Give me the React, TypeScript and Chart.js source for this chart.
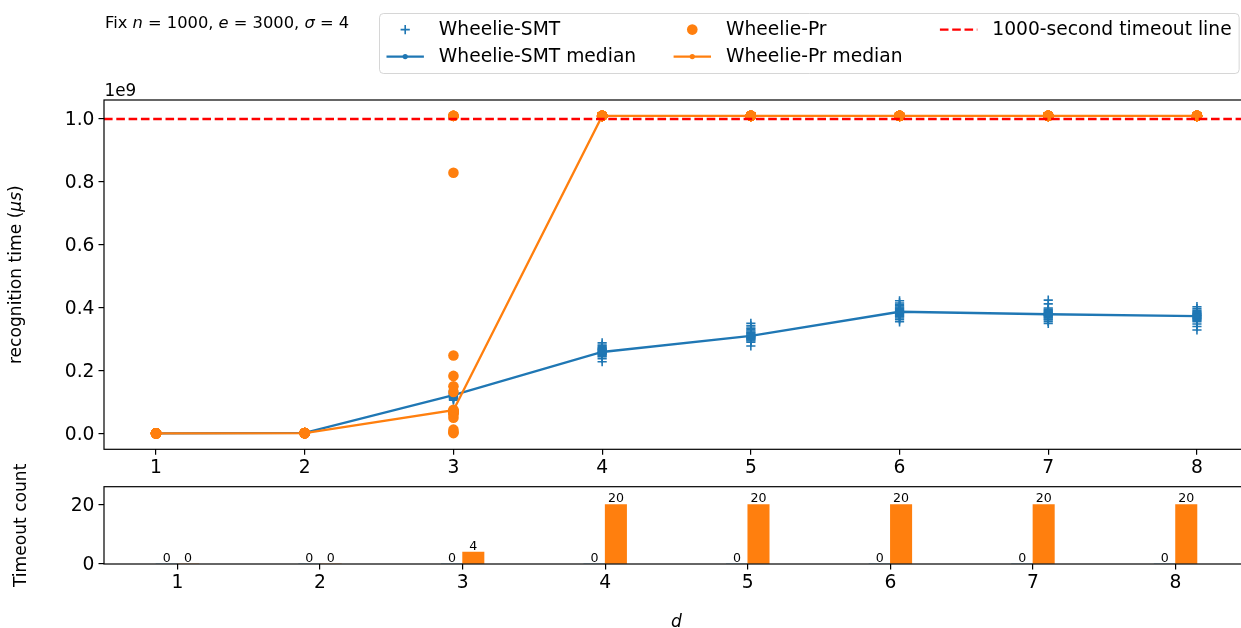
import React, { useEffect, useRef } from 'react';
import { Chart, registerables } from 'chart.js';

Chart.register(...registerables);

const FONT = '"DejaVu Sans", sans-serif';
const BLUE = '#1f77b4';
const ORANGE = '#ff7f0e';
const RED = '#ff0000';

// number of dimensions d on the x axis
const dValues = [1, 2, 3, 4, 5, 6, 7, 8];

// Wheelie-SMT recognition time per run, in seconds (20 runs per d)
const smtRuns: number[][] = [
  [0.42, 0.45, 0.39, 0.48, 0.41, 0.44, 0.46, 0.40, 0.43, 0.47, 0.42, 0.45, 0.44, 0.41, 0.49, 0.43, 0.46, 0.40, 0.44, 0.42],
  [1.6, 1.8, 1.5, 2.1, 1.7, 1.9, 2.0, 1.6, 1.8, 1.7, 2.2, 1.9, 1.8, 1.6, 2.0, 1.7, 1.9, 1.8, 2.1, 1.7],
  [106, 109, 112, 114, 116, 117, 118, 119, 120, 121, 123, 124, 125, 126, 127, 128, 130, 132, 135, 138],
  [228, 238, 244, 247, 250, 252, 254, 255, 256, 258, 260, 262, 264, 266, 268, 270, 273, 276, 281, 288],
  [278, 290, 294, 297, 300, 302, 304, 306, 308, 309, 311, 313, 316, 319, 322, 326, 330, 335, 342, 350],
  [355, 362, 367, 371, 374, 377, 380, 382, 384, 386, 388, 390, 393, 396, 399, 402, 406, 410, 415, 422],
  [350, 356, 361, 364, 367, 370, 373, 375, 376, 378, 380, 382, 384, 386, 389, 392, 395, 399, 412, 424],
  [329, 340, 348, 355, 359, 362, 365, 367, 369, 372, 374, 376, 378, 380, 382, 385, 388, 392, 397, 403],
];

// Wheelie-Pr recognition time per run, in seconds; 1010 marks a run that hit the timeout
const prRuns: number[][] = [
  [0.21, 0.24, 0.19, 0.26, 0.22, 0.23, 0.20, 0.25, 0.22, 0.21, 0.24, 0.23, 0.19, 0.22, 0.26, 0.21, 0.23, 0.20, 0.24, 0.22],
  [0.9, 1.1, 1.0, 1.3, 0.95, 1.05, 1.2, 0.9, 1.15, 1.0, 1.1, 0.98, 1.25, 1.02, 0.94, 1.08, 1.12, 0.97, 1.18, 1.03],
  [1, 4, 12, 50, 60, 64, 68, 70, 71, 73, 75, 132, 150, 183, 248, 829, 1010, 1010, 1010, 1010],
  [1010, 1010, 1010, 1010, 1010, 1010, 1010, 1010, 1010, 1010, 1010, 1010, 1010, 1010, 1010, 1010, 1010, 1010, 1010, 1010],
  [1010, 1010, 1010, 1010, 1010, 1010, 1010, 1010, 1010, 1010, 1010, 1010, 1010, 1010, 1010, 1010, 1010, 1010, 1010, 1010],
  [1010, 1010, 1010, 1010, 1010, 1010, 1010, 1010, 1010, 1010, 1010, 1010, 1010, 1010, 1010, 1010, 1010, 1010, 1010, 1010],
  [1010, 1010, 1010, 1010, 1010, 1010, 1010, 1010, 1010, 1010, 1010, 1010, 1010, 1010, 1010, 1010, 1010, 1010, 1010, 1010],
  [1010, 1010, 1010, 1010, 1010, 1010, 1010, 1010, 1010, 1010, 1010, 1010, 1010, 1010, 1010, 1010, 1010, 1010, 1010, 1010],
];

// number of timed-out runs per d
const smtTimeouts = [0, 0, 0, 0, 0, 0, 0, 0];
const prTimeouts = [0, 0, 4, 20, 20, 20, 20, 20];

const TIMEOUT_SECONDS = 1000;
const US_PER_S = 1e6;
const topYTicks = [0, 0.2, 0.4, 0.6, 0.8, 1.0]; // in units of 1e9 µs
const bottomYTicks = [0, 20];

// canvas and plot-area geometry
const CW = 1260;
const CH = 628;
const AREA_LEFT = 104;
const AREA_RIGHT = 1249;
const TOP_AREA = { top: 100, bottom: 449.3 };
const BOT_AREA = { top: 486.7, bottom: 564 };
const TOP_X = { min: 0.65, max: 8.35 };
const TOP_Y = { min: -0.0505e9, max: 1.0605e9 };
const BAR_W = 0.15;
const BOT_X = { min: 0.485, max: 8.515 };
const BOT_Y = { min: 0, max: 26 };

const TICK_FS = 18.7;
const LABEL_FS = 17.1;
const TITLE_FS = 16.3;
const OFFSET_FS = 16.8;
const BAR_FS = 12.6;

function median(values: number[]): number {
  const s = [...values].sort((a, b) => a - b);
  const m = Math.floor(s.length / 2);
  return s.length % 2 ? s[m] : (s[m - 1] + s[m]) / 2;
}

type Run = [string, boolean];

function runsWidth(ctx: CanvasRenderingContext2D, runs: Run[], size: number) {
  let w = 0;
  for (const [t, it] of runs) {
    ctx.font = `${it ? 'italic ' : ''}${size}px ${FONT}`;
    w += ctx.measureText(t).width;
  }
  return w;
}

function drawRuns(ctx: CanvasRenderingContext2D, runs: Run[], x: number, y: number, size: number) {
  let cx = x;
  for (const [t, it] of runs) {
    ctx.font = `${it ? 'italic ' : ''}${size}px ${FONT}`;
    ctx.fillText(t, cx, y);
    cx += ctx.measureText(t).width;
  }
}

function drawRotated(ctx: CanvasRenderingContext2D, runs: Run[], baselineX: number, centerY: number, size: number) {
  ctx.save();
  ctx.translate(baselineX, centerY);
  ctx.rotate(-Math.PI / 2);
  ctx.textBaseline = 'alphabetic';
  ctx.textAlign = 'left';
  const w = runsWidth(ctx, runs, size);
  drawRuns(ctx, runs, -w / 2, 0, size);
  ctx.restore();
}

const framePlugin = {
  id: 'frame',
  afterDatasetsDraw(chart: any) {
    const { ctx, chartArea } = chart;
    ctx.save();
    ctx.strokeStyle = '#000';
    ctx.lineWidth = 1.2;
    ctx.strokeRect(chartArea.left, chartArea.top, chartArea.right - chartArea.left, chartArea.bottom - chartArea.top);
    ctx.restore();
  },
};

const topTextPlugin = {
  id: 'topText',
  afterDraw(chart: any) {
    const ctx: CanvasRenderingContext2D = chart.ctx;
    ctx.save();
    ctx.fillStyle = '#000';
    ctx.textBaseline = 'alphabetic';
    ctx.textAlign = 'left';
    drawRuns(ctx, [['Fix ', false], ['n', true], [' = 1000, ', false], ['e', true], [' = 3000, ', false], ['σ', true], [' = 4', false]], 105, 27.5, TITLE_FS);
    drawRuns(ctx, [['1e9', false]], 104.5, 96, OFFSET_FS);
    drawRotated(ctx, [['recognition time (', false], ['μs', true], [')', false]], 20.5, (chart.chartArea.top + chart.chartArea.bottom) / 2, LABEL_FS);
    ctx.restore();
  },
};

const legendPlugin = {
  id: 'mplLegend',
  afterDraw(chart: any) {
    const ctx: CanvasRenderingContext2D = chart.ctx;
    const ds = chart.data.datasets;
    const fs = TICK_FS;
    const handleLen = 2 * fs;
    const textPad = 0.8 * fs;
    const colSpace = 2 * fs;
    const baselines = [35.2, 62.2];
    const boxLeft = 379.5;
    const boxTop = 13.5;
    const boxBottom = 73.5;
    const columns = [[0, 1], [2, 3], [4]];
    ctx.save();
    ctx.font = `${fs}px ${FONT}`;
    const placed: { idx: number; row: number; x: number }[] = [];
    let x = boxLeft + 7;
    for (const col of columns) {
      let maxW = 0;
      col.forEach((idx, row) => {
        maxW = Math.max(maxW, ctx.measureText(ds[idx].label).width);
        placed.push({ idx, row, x });
      });
      x += handleLen + textPad + maxW + colSpace;
    }
    const boxRight = x - colSpace + 0.4 * fs;
    const r = 4;
    ctx.beginPath();
    ctx.moveTo(boxLeft + r, boxTop);
    ctx.lineTo(boxRight - r, boxTop);
    ctx.quadraticCurveTo(boxRight, boxTop, boxRight, boxTop + r);
    ctx.lineTo(boxRight, boxBottom - r);
    ctx.quadraticCurveTo(boxRight, boxBottom, boxRight - r, boxBottom);
    ctx.lineTo(boxLeft + r, boxBottom);
    ctx.quadraticCurveTo(boxLeft, boxBottom, boxLeft, boxBottom - r);
    ctx.lineTo(boxLeft, boxTop + r);
    ctx.quadraticCurveTo(boxLeft, boxTop, boxLeft + r, boxTop);
    ctx.closePath();
    ctx.fillStyle = 'rgba(255,255,255,0.8)';
    ctx.fill();
    ctx.strokeStyle = 'rgba(204,204,204,0.8)';
    ctx.lineWidth = 1;
    ctx.stroke();

    for (const p of placed) {
      const d = ds[p.idx];
      const base = baselines[p.row];
      const hy = base - 5.6;
      const cx = p.x + handleLen / 2;
      ctx.save();
      if (d.showLine) {
        ctx.strokeStyle = d.borderColor;
        ctx.lineWidth = d.borderWidth;
        ctx.setLineDash(d.borderDash || []);
        ctx.beginPath();
        ctx.moveTo(p.x, hy);
        ctx.lineTo(p.x + handleLen, hy);
        ctx.stroke();
        ctx.setLineDash([]);
        if (d.pointRadius > 0) {
          ctx.fillStyle = d.pointBackgroundColor;
          ctx.beginPath();
          ctx.arc(cx, hy, d.pointRadius, 0, Math.PI * 2);
          ctx.fill();
        }
      } else if (d.pointStyle === 'cross') {
        ctx.strokeStyle = d.pointBorderColor;
        ctx.lineWidth = d.pointBorderWidth;
        const rr = d.pointRadius;
        ctx.beginPath();
        ctx.moveTo(cx - rr, hy);
        ctx.lineTo(cx + rr, hy);
        ctx.moveTo(cx, hy - rr);
        ctx.lineTo(cx, hy + rr);
        ctx.stroke();
      } else {
        ctx.fillStyle = d.pointBackgroundColor;
        ctx.beginPath();
        ctx.arc(cx, hy, d.pointRadius, 0, Math.PI * 2);
        ctx.fill();
      }
      ctx.restore();
      ctx.fillStyle = '#000';
      ctx.font = `${fs}px ${FONT}`;
      ctx.textBaseline = 'alphabetic';
      ctx.textAlign = 'left';
      ctx.fillText(d.label, p.x + handleLen + textPad, base);
    }
    ctx.restore();
  },
};

const bottomTextPlugin = {
  id: 'bottomText',
  afterDatasetsDraw(chart: any) {
    const ctx: CanvasRenderingContext2D = chart.ctx;
    ctx.save();
    ctx.fillStyle = '#000';
    ctx.font = `${BAR_FS}px ${FONT}`;
    ctx.textAlign = 'center';
    ctx.textBaseline = 'alphabetic';
    chart.data.datasets.forEach((d: any, i: number) => {
      const meta = chart.getDatasetMeta(i);
      meta.data.forEach((el: any, j: number) => {
        ctx.fillText(String(d.data[j].y), el.x, el.y - 2.5);
      });
    });
    ctx.restore();
  },
  afterDraw(chart: any) {
    const ctx: CanvasRenderingContext2D = chart.ctx;
    ctx.save();
    ctx.fillStyle = '#000';
    drawRotated(ctx, [['Timeout count', false]], 26, (chart.chartArea.top + chart.chartArea.bottom) / 2, LABEL_FS);
    ctx.textBaseline = 'alphabetic';
    const w = runsWidth(ctx, [['d', true]], LABEL_FS);
    drawRuns(ctx, [['d', true]], (chart.chartArea.left + chart.chartArea.right) / 2 - w / 2, 626.5, LABEL_FS);
    ctx.restore();
  },
};

function xAxis(range: { min: number; max: number }, areaBottom: number) {
  return {
    type: 'linear',
    min: range.min,
    max: range.max,
    offset: false,
    bounds: 'data',
    afterBuildTicks: (s: any) => {
      s.ticks = dValues.map((v) => ({ value: v }));
    },
    afterFit: (s: any) => {
      s.height = CH - areaBottom;
    },
    ticks: {
      autoSkip: false,
      maxRotation: 0,
      minRotation: 0,
      padding: 2,
      color: '#000',
      font: { family: FONT, size: TICK_FS },
      callback: (v: number) => String(v),
    },
    grid: { drawOnChartArea: false, drawTicks: true, tickLength: 5.5, color: '#000', lineWidth: 1.2, offset: false },
    border: { display: false },
  };
}

function yAxis(range: { min: number; max: number }, tickValues: number[], fmt: (v: number) => string) {
  return {
    type: 'linear',
    min: range.min,
    max: range.max,
    bounds: 'data',
    afterBuildTicks: (s: any) => {
      s.ticks = tickValues.map((v) => ({ value: v }));
    },
    afterFit: (s: any) => {
      s.width = AREA_LEFT;
    },
    ticks: {
      autoSkip: false,
      padding: 4,
      labelOffset: 1.4,
      color: '#000',
      font: { family: FONT, size: TICK_FS },
      callback: (v: number) => fmt(v),
    },
    grid: { drawOnChartArea: false, drawTicks: true, tickLength: 5.5, color: '#000', lineWidth: 1.2 },
    border: { display: false },
  };
}

function runPoints(runs: number[][]) {
  const pts: { x: number; y: number }[] = [];
  runs.forEach((row, i) => row.forEach((s) => pts.push({ x: dValues[i], y: s * US_PER_S })));
  return pts;
}

function medianPoints(runs: number[][]) {
  return runs.map((row, i) => ({ x: dValues[i], y: median(row) * US_PER_S }));
}

export default function App() {
  const topRef = useRef<HTMLCanvasElement>(null);
  const botRef = useRef<HTMLCanvasElement>(null);

  useEffect(() => {
    const common = {
      responsive: false,
      animation: false as const,
      devicePixelRatio: 1,
      events: [] as any[],
      plugins: { legend: { display: false }, tooltip: { enabled: false }, title: { display: false } },
    };

    const topChart = new Chart(topRef.current as HTMLCanvasElement, {
      type: 'scatter',
      data: {
        datasets: [
          {
            label: 'Wheelie-SMT',
            data: runPoints(smtRuns),
            showLine: false,
            pointStyle: 'cross',
            pointRadius: 4.6,
            pointBorderWidth: 1.6,
            pointBorderColor: BLUE,
            pointBackgroundColor: BLUE,
            borderColor: BLUE,
            backgroundColor: BLUE,
            order: 5,
          },
          {
            label: 'Wheelie-SMT median',
            data: medianPoints(smtRuns),
            showLine: true,
            borderColor: BLUE,
            backgroundColor: BLUE,
            borderWidth: 2.3,
            pointRadius: 2.6,
            pointBorderWidth: 0,
            pointBackgroundColor: BLUE,
            pointBorderColor: BLUE,
            tension: 0,
            order: 4,
          },
          {
            label: 'Wheelie-Pr',
            data: runPoints(prRuns),
            showLine: false,
            pointStyle: 'circle',
            pointRadius: 5.3,
            pointBorderWidth: 0,
            pointBackgroundColor: ORANGE,
            pointBorderColor: ORANGE,
            borderColor: ORANGE,
            backgroundColor: ORANGE,
            order: 3,
          },
          {
            label: 'Wheelie-Pr median',
            data: medianPoints(prRuns),
            showLine: true,
            borderColor: ORANGE,
            backgroundColor: ORANGE,
            borderWidth: 2.3,
            pointRadius: 2.6,
            pointBorderWidth: 0,
            pointBackgroundColor: ORANGE,
            pointBorderColor: ORANGE,
            tension: 0,
            order: 2,
          },
          {
            label: '1000-second timeout line',
            data: [
              { x: TOP_X.min, y: TIMEOUT_SECONDS * US_PER_S },
              { x: TOP_X.max, y: TIMEOUT_SECONDS * US_PER_S },
            ],
            showLine: true,
            borderColor: RED,
            backgroundColor: RED,
            borderWidth: 2.3,
            borderDash: [8.6, 3.7],
            pointRadius: 0,
            order: 1,
          },
        ],
      } as any,
      options: {
        ...common,
        layout: { padding: { left: 0, right: CW - AREA_RIGHT, top: TOP_AREA.top, bottom: 0 } },
        scales: {
          x: xAxis(TOP_X, TOP_AREA.bottom),
          y: yAxis(TOP_Y, topYTicks.map((v) => v * 1e9), (v) => (v / 1e9).toFixed(1)),
        },
      } as any,
      plugins: [framePlugin, topTextPlugin, legendPlugin],
    });

    const botChart = new Chart(botRef.current as HTMLCanvasElement, {
      type: 'bar',
      data: {
        datasets: [
          {
            label: 'Wheelie-SMT',
            data: dValues.map((d, i) => ({ x: d - BAR_W / 2, y: smtTimeouts[i] })),
            backgroundColor: BLUE,
            borderWidth: 0,
            grouped: false,
            barPercentage: 1,
            categoryPercentage: 1,
          },
          {
            label: 'Wheelie-Pr',
            data: dValues.map((d, i) => ({ x: d + BAR_W / 2, y: prTimeouts[i] })),
            backgroundColor: ORANGE,
            borderWidth: 0,
            grouped: false,
            barPercentage: 1,
            categoryPercentage: 1,
          },
        ],
      } as any,
      options: {
        ...common,
        layout: { padding: { left: 0, right: CW - AREA_RIGHT, top: BOT_AREA.top, bottom: 0 } },
        scales: {
          x: xAxis(BOT_X, BOT_AREA.bottom),
          y: yAxis(BOT_Y, bottomYTicks, (v) => String(v)),
        },
      } as any,
      plugins: [framePlugin, bottomTextPlugin],
    });

    return () => {
      topChart.destroy();
      botChart.destroy();
    };
  }, []);

  const canvasStyle: React.CSSProperties = { position: 'absolute', left: 0, top: 0, width: CW, height: CH };

  return (
    <div style={{ position: 'fixed', left: 0, top: 0, width: 1241, height: 628, overflow: 'hidden', background: '#fff' }}>
      <canvas ref={topRef} width={CW} height={CH} style={canvasStyle} />
      <canvas ref={botRef} width={CW} height={CH} style={canvasStyle} />
    </div>
  );
}
